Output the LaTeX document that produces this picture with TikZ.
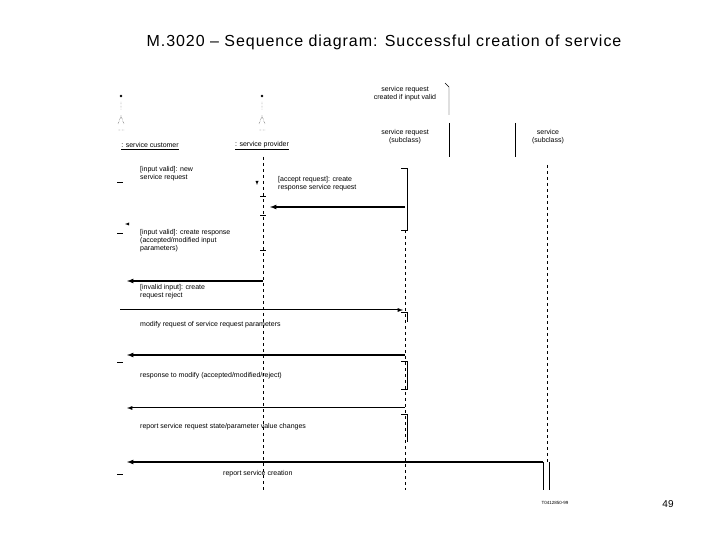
\documentclass[tikz,border=0pt]{standalone}
\usepackage{fontspec}
\setmainfont{Liberation Sans}
\usetikzlibrary{positioning}
\begin{document}
\begin{tikzpicture}[x=1pt,y=-1pt,>=latex,
  txt/.style={font=\fontsize{7}{8}\selectfont,align=left,anchor=north west,inner sep=0pt},
  msg/.style={->,line width=1.2pt},
  life/.style={dashed,thin}]
\useasboundingbox (0,0) rectangle (720,540);
\node (title) at (384,42) {\fontsize{16}{18}\selectfont\addfontfeature{LetterSpace=6} M.3020 -- Sequence diagram: Successful creation of service};
% actors
\foreach \n/\x in {cust/121,prov/262}{
  \fill (\x,96) circle (1.3pt);
  \draw[densely dotted] (\x,102)--(\x,110) (\x-3,124)--(\x,116)--(\x+3,124) (\x-3,130)--(\x+3,130);
}
\node[font=\fontsize{7}{8}\selectfont] (custlab) at (150,146) {\underline{: service customer}};
\node[font=\fontsize{7}{8}\selectfont] (provlab) at (262,146) {\underline{: service provider}};
% objects
\node[font=\fontsize{7}{8}\selectfont,align=center] (note) at (405,94) {service request\\created if input valid};
\draw (445,83)--(449,87)--(449,115);
\node[font=\fontsize{7}{8}\selectfont,align=center] (sreq) at (405,137) {service request\\(subclass)};
\draw (449,123)--(449,157) (515,123)--(515,157);
\node[font=\fontsize{7}{8}\selectfont,align=center] (serv) at (548,137) {service\\(subclass)};
% lifelines
\coordinate (p0) at (263,157); \coordinate (p1) at (263,490);
\draw[life] (p0)--(p1);
\coordinate (r0) at (405,230); \coordinate (r1) at (405,490);
\draw[life] (r0)--(r1);
\coordinate (s0) at (547,165); \coordinate (s1) at (547,462);
\draw[life,thick] (s0)--(s1);
\draw (543,462)--(543,490) (549,462)--(549,490);
% activations
\draw (401,168)--(407,168)--(407,230)--(401,230);
\draw (401,312)--(407,312)--(407,322);
\draw (401,361)--(407,361)--(407,389)--(401,389);
\draw (401,414)--(407,414)--(407,442);
\foreach \y in {182,233,362,474} \draw (117,\y)--(123,\y);
\foreach \y in {196,215,250} \draw (260,\y)--(266,\y);
% messages
\coordinate (c1) at (127,281); \coordinate (c2) at (120,310); \coordinate (c3) at (127,355);
\coordinate (c4) at (127,408); \coordinate (c5) at (127,462); \coordinate (c6) at (125,224);
\coordinate (p2) at (270,207); \coordinate (p3) at (263,281); \coordinate (p4) at (257,185);
\coordinate (r2) at (405,207); \coordinate (r3) at (403,310); \coordinate (r4) at (405,355);
\coordinate (r5) at (405,408); \coordinate (s2) at (543,462);
\draw[->] (p4)++(0,-3)--(p4);
\draw[->] (c6)++(3,0)--(c6);
\node[txt] (m1) at (140,166) {[input valid]: new\\service request};
\draw[msg] (r2)--(p2);
\node[txt] (m2) at (278,176) {[accept request]: create\\response service request};
\draw[msg] (p3)--(c1);
\node[txt] (m3) at (140,229) {[input valid]: create response\\(accepted/modified input\\parameters)};
\node[txt] (m4) at (140,284) {[invalid input]: create\\request reject};
\draw[msg,double,line width=0.6pt] (c2)--(r3);
\node[txt] (m5) at (140,321) {modify request of service request parameters};
\draw[msg] (r4)--(c3);
\node[txt] (m6) at (140,372) {response to modify (accepted/modified/reject)};
\draw[msg,double,line width=0.6pt] (r5)--(c4);
\node[txt] (m7) at (140,423) {report service request state/parameter value changes};
\draw[msg] (s2)--(c5);
\node[txt] (m8) at (223,470) {report service creation};
\node[font=\fontsize{4.5}{5}\selectfont] (fig) at (555,503) {T0412850-99};
\node[font=\fontsize{10}{12}\selectfont] (page) at (668,504) {49};
\end{tikzpicture}
\end{document}
